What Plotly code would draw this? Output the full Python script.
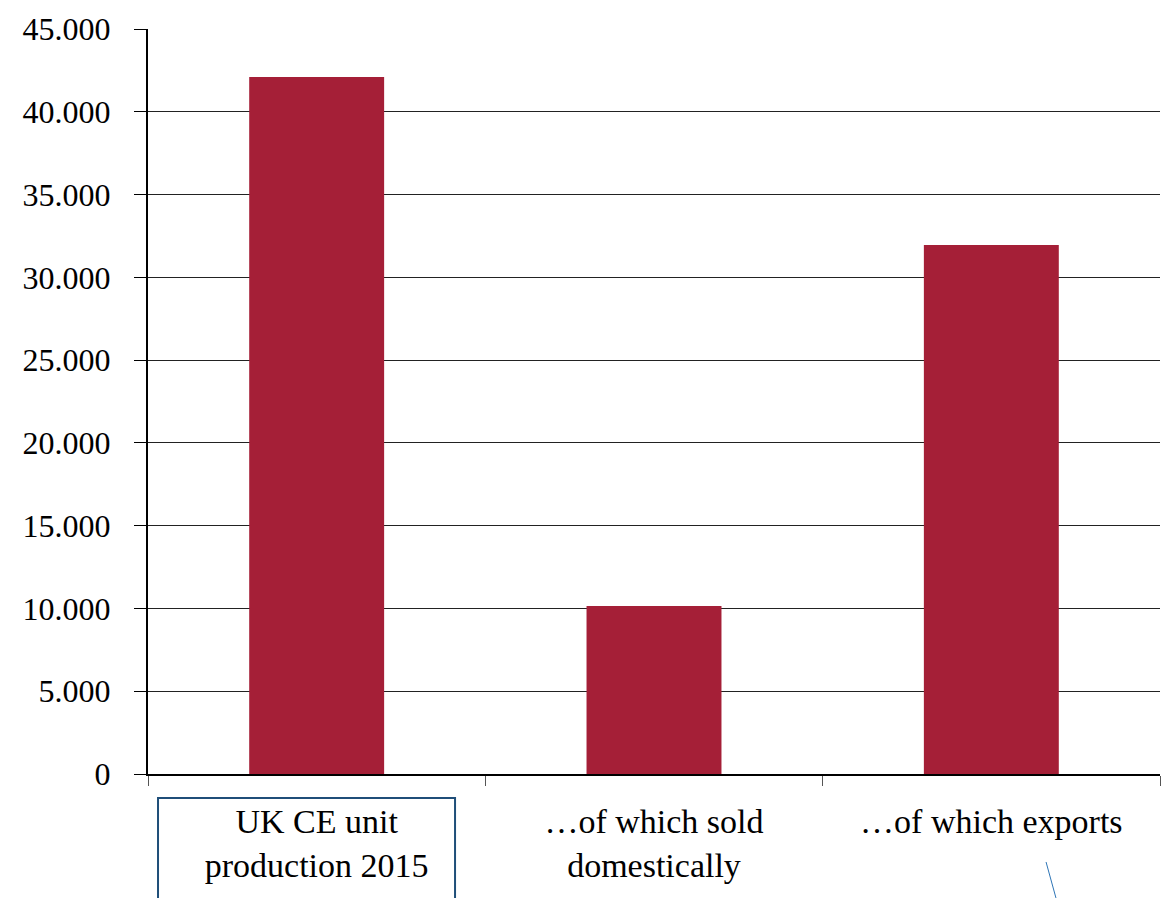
import plotly.graph_objects as go

categories = ["UK CE unit<br>production 2015", "…of which sold<br>domestically", "…of which exports"]
values = [42100, 10150, 31950]
y_ticks = [0, 5000, 10000, 15000, 20000, 25000, 30000, 35000, 40000, 45000]

FONT = "Liberation Serif"

fig = go.Figure()
fig.add_trace(go.Bar(
    x=categories, y=values, width=0.4,
    marker=dict(color="#A51F37", line=dict(width=0)),
))

# page body has an 8px margin; compensate so plot area lands at x 148..1160, y 29..774
fig.update_layout(
    width=1161, height=890,
    margin=dict(l=140, r=9, t=21, b=124, autoexpand=False),
    paper_bgcolor="white", plot_bgcolor="white",
    separators=",.",
    showlegend=False,
    font=dict(family=FONT, size=32, color="black"),
)
fig.update_yaxes(
    range=[0, 45000], tickvals=y_ticks, tickformat=",",
    showgrid=True, gridcolor="#222222", gridwidth=1,
    showline=True, linecolor="black", linewidth=2,
    ticks="outside", ticklen=12, tickcolor="black", tickwidth=1,
    ticklabelstandoff=17, automargin=False,
    tickfont=dict(family=FONT, size=32, color="black"),
    zeroline=False,
)
fig.update_xaxes(
    showline=True, linecolor="black", linewidth=1.5,
    ticks="outside", tickson="boundaries", ticklen=10, tickcolor="#555555", tickwidth=1,
    ticklabelstandoff=16, automargin=False,
    showgrid=False,
    tickfont=dict(family=FONT, size=34, color="black"),
)

# annotation artefacts visible in reference
fig.add_shape(type="rect", xref="paper", yref="paper",
              x0=0.0099, x1=0.3034, y0=-0.0322, y1=-0.175,
              line=dict(color="#1F4E79", width=2), fillcolor="rgba(0,0,0,0)")
fig.add_shape(type="line", xref="paper", yref="paper",
              x0=0.8874, y0=-0.1181, x1=0.8972, y1=-0.1664,
              line=dict(color="#2E75B6", width=1))

fig.write_html("out.html")
